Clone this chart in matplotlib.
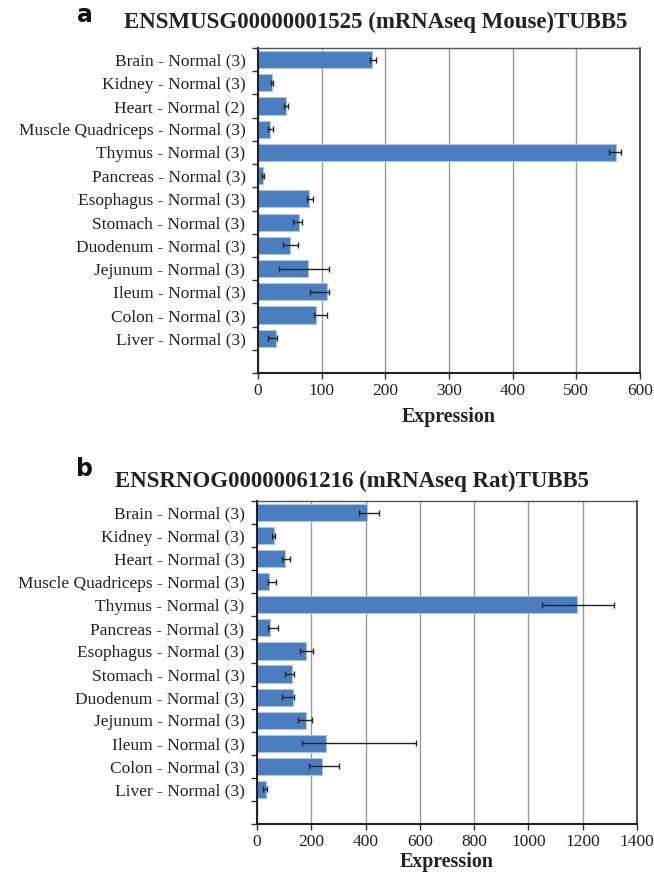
import numpy as np
import matplotlib
matplotlib.use("Agg")
import matplotlib.pyplot as plt

# tissue panel, same order for both species
tissues = ["Brain", "Kidney", "Heart", "Muscle Quadriceps", "Thymus", "Pancreas",
           "Esophagus", "Stomach", "Duodenum", "Jejunum", "Ileum", "Colon", "Liver"]
mouse_n = [3, 3, 2, 3, 3, 3, 3, 3, 3, 3, 3, 3, 3]
rat_n = [3] * 13

# mouse TUBB5 expression, with low/high whisker ends
mouse_expr = [179, 22.5, 44, 18.4, 563, 8, 80, 64.6, 50, 78.7, 108.7, 90.8, 28]
mouse_lo = [175.3, 21, 41.4, 16.2, 551.7, 6, 76.7, 55.6, 39.8, 33.5, 82.4, 88.7, 16.2]
mouse_hi = [184.7, 24, 47.7, 23.1, 570.6, 9.5, 86.6, 68.8, 63.5, 111.3, 111.3, 107.6, 29.4]

# rat TUBB5 expression, with low/high whisker ends
rat_expr = [405, 64, 102, 46, 1179, 48, 180, 130, 132, 182, 254, 240, 33]
rat_lo = [375, 54, 91, 42, 1050, 39, 160, 102, 91, 150, 164, 193, 23]
rat_hi = [449, 67, 123, 70, 1315, 76, 208, 136, 136, 201, 585, 303, 36]

mouse_ticks = [0, 100, 200, 300, 400, 500, 600]
rat_ticks = [0, 200, 400, 600, 800, 1000, 1200, 1400]

serif = "Liberation Serif"
bar_color = "#4a7ebf"
W, H = 654, 873


def panel(ax, expr, lo, hi, ns, ticks, xlabel_pad):
    expr = np.array(expr)
    err = [expr - np.array(lo), np.array(hi) - expr]
    y = np.arange(len(tissues))
    ax.barh(y, expr, height=0.74, color=bar_color, edgecolor="#a9c4e6",
            linewidth=0.8, zorder=2)
    ax.errorbar(expr, y, xerr=err, fmt="none", ecolor="#222222",
                elinewidth=1.0, capsize=2.5, capthick=1.0, zorder=3)

    ax.set_xlim(ticks[0], ticks[-1])
    ax.set_ylim(len(tissues) + 0.5, -0.5)
    ax.set_xticks(ticks)
    ax.set_xticklabels([str(t) for t in ticks], fontfamily=serif,
                       fontsize=12.5, color="#222222")
    ax.xaxis.grid(True, color="#9a9a9a", linewidth=1.0, zorder=0)
    ax.set_axisbelow(True)

    ax.set_yticks(y)
    ax.set_yticklabels([f"{t} - Normal ({n})" for t, n in zip(tissues, ns)],
                       fontfamily=serif, fontsize=12.5, color="#222222")
    ax.set_yticks(np.arange(-0.5, len(tissues) + 1, 1), minor=True)
    ax.tick_params(axis="y", which="major", length=0, pad=9)
    ax.tick_params(axis="y", which="minor", length=4, width=1, color="#333333")
    ax.tick_params(axis="x", length=4, width=1, color="#333333", pad=3)

    for side in ["left", "bottom"]:
        ax.spines[side].set_linewidth(1.5)
        ax.spines[side].set_color("#222222")
    ax.spines["right"].set_linewidth(1.2)
    ax.spines["right"].set_color("#333333")
    ax.spines["top"].set_linewidth(1.0)
    ax.spines["top"].set_color("#555555")

    ax.set_xlabel("Expression", fontfamily=serif, fontweight="bold",
                  fontsize=14.4, color="#222222", labelpad=xlabel_pad)


fig = plt.figure(figsize=(W / 100, H / 100), dpi=100)
ax1 = fig.add_axes([258 / W, 1 - 373 / H, 382 / W, 325 / H])
ax2 = fig.add_axes([257 / W, 1 - 824 / H, 380 / W, 323 / H])

panel(ax1, mouse_expr, mouse_lo, mouse_hi, mouse_n, mouse_ticks, 6)
panel(ax2, rat_expr, rat_lo, rat_hi, rat_n, rat_ticks, 2)

# titles and panel letters
title_kw = dict(fontfamily=serif, fontweight="bold", fontsize=16.5,
                color="#222222", ha="center", va="center")
fig.text(376 / W, 1 - 22 / H, "ENSMUSG00000001525 (mRNAseq Mouse)TUBB5", **title_kw)
fig.text(352 / W, 1 - 481 / H, "ENSRNOG00000061216 (mRNAseq Rat)TUBB5", **title_kw)
letter_kw = dict(fontfamily="DejaVu Sans", fontweight="bold", fontsize=17,
                 color="#111111", ha="center", va="center")
fig.text(85 / W, 1 - 15 / H, "a", **letter_kw)
fig.text(85 / W, 1 - 469 / H, "b", **letter_kw)

fig.savefig("out.png", dpi=100)
